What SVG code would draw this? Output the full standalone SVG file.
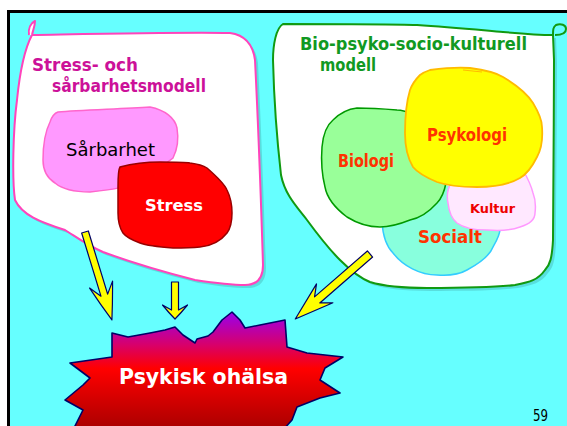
<svg xmlns="http://www.w3.org/2000/svg" width="567" height="426" viewBox="0 0 567 426">
<defs>
<style>
.t{font-family:"DejaVu Sans","Liberation Sans",sans-serif;font-weight:bold;}
.n{font-family:"DejaVu Sans","Liberation Sans",sans-serif;font-weight:normal;}
.arrow{fill:#FFFF00;stroke:#000066;stroke-width:1.2;stroke-linejoin:round;}
.shadow{fill:#000000;opacity:0.13;}
</style>
<linearGradient id="burst" x1="0" y1="0" x2="0" y2="1">
<stop offset="0" stop-color="#9900EE"/>
<stop offset="0.28" stop-color="#D8006A"/>
<stop offset="0.48" stop-color="#FF0000"/>
<stop offset="1" stop-color="#A80000"/>
</linearGradient>
<path id="pinkbox" d="M 32,35 C 90,34 180,32 230,33 C 245,35 253,45 255,60 C 258,120 261,200 263,265 C 263,278 257,285 245,285 C 230,285 215,283 195,280 C 160,271 130,262 103,252 C 85,244 75,236 65,230 C 40,222 22,215 15,200 C 12,180 13,130 17,100 C 20,70 24,50 32,35 Z"/>
<path id="greenbox" d="M 283,24 C 330,24 390,24 417,25 C 450,27 480,30 503,32 C 525,34 540,35 553,35 L 554,60 C 554,120 553,200 553,240 C 552,258 550,265 545,270 C 538,280 530,282 515,285 C 490,288 460,288 427,288 C 400,288 380,285 370,282 C 360,278 350,270 340,260 C 330,250 318,235 307,220 C 297,207 285,195 281,175 C 277,140 274,100 273,60 C 273,45 276,28 283,24 Z"/>
</defs>

<rect x="0" y="0" width="567" height="426" fill="#FFFFFF"/>
<rect x="8.5" y="11.5" width="600" height="500" fill="#66FFFF" stroke="#000000" stroke-width="3"/>

<g id="stress-sarbarhetsmodell">
<use href="#pinkbox" class="shadow" transform="translate(3,3)"/>
<use href="#pinkbox" fill="#FFFFFF" stroke="#FF44BB" stroke-width="2"/>
<path d="M 29,35 C 28,28 31,23 35,21 C 35,26 33,30 32,35" fill="#FFFFFF" stroke="#FF44BB" stroke-width="2" stroke-linejoin="round"/>
<text class="t" x="32" y="71" font-size="17" fill="#CC1199" textLength="106" lengthAdjust="spacingAndGlyphs">Stress- och</text>
<text class="t" x="52" y="92" font-size="17" fill="#CC1199" textLength="154" lengthAdjust="spacingAndGlyphs">sårbarhetsmodell</text>
</g>

<g id="sarbarhet">
<path d="M 58,112 C 80,110 120,109 150,107 C 165,110 175,118 177,128 C 179,140 177,150 173,158 L 150,175 C 130,188 110,190 90,192 C 75,192 62,189 55,183 C 47,178 43,170 43,160 C 43,145 46,130 50,122 C 52,116 55,113 58,112 Z" fill="#FF99FF" stroke="#FF66CC" stroke-width="1.5"/>
<text class="n" x="66" y="156" font-size="17" fill="#000000" textLength="89" lengthAdjust="spacingAndGlyphs">Sårbarhet</text>
</g>

<g id="stress">
<path d="M 120,167 C 135,163 150,162 160,162 C 175,162 185,162 190,163 C 198,164 204,166 207,168 C 215,175 224,183 227,190 C 231,198 232,207 232,213 C 232,222 230,229 227,233 C 220,242 210,246 200,247 C 190,248 180,248 173,248 C 160,247 148,246 140,243 C 132,240 126,237 123,233 C 119,227 118,220 118,213 C 118,200 118,192 118,187 C 118,178 118,170 120,167 Z" fill="#FF0000" stroke="#990000" stroke-width="1.5"/>
<text class="t" x="145" y="211" font-size="16" fill="#FFFFFF" textLength="58" lengthAdjust="spacingAndGlyphs">Stress</text>
</g>

<g id="bio-psyko-socio-kulturell-modell">
<use href="#greenbox" class="shadow" transform="translate(3,3)"/>
<use href="#greenbox" fill="#FFFFFF" stroke="#119911" stroke-width="2"/>
<path d="M 553,35 C 553,30 553,27 556,25 C 561,23 566,25 566,29 C 566,33 562,35 555,35" fill="#66FFFF" stroke="#119911" stroke-width="2"/>
<text class="t" x="300" y="50" font-size="17" fill="#119922" textLength="227" lengthAdjust="spacingAndGlyphs">Bio-psyko-socio-kulturell</text>
<text class="t" x="320" y="71" font-size="17" fill="#119922" textLength="56" lengthAdjust="spacingAndGlyphs">modell</text>
</g>

<g id="socialt">
<path d="M 382,222 C 383,238 387,247 393,253 C 403,266 420,275 437,275 C 450,276 460,274 467,270 C 480,263 490,255 493,247 C 497,240 500,235 500,229 L 505,200 L 445,185 L 385,205 Z" fill="#88FFDD" stroke="none"/>
<path d="M 382,222 C 383,238 387,247 393,253 C 403,266 420,275 437,275 C 450,276 460,274 467,270 C 480,263 490,255 493,247 C 497,240 500,235 500,229" fill="none" stroke="#33CCFF" stroke-width="1.5"/>
</g>

<g id="biologi">
<path d="M 357,108 C 370,108 385,109 397,110 C 402,110 408,112 415,115 L 440,150 C 446,165 447,175 446,183 C 444,193 440,200 437,203 C 428,213 420,218 410,220 C 400,224 390,227 380,227 C 365,227 355,222 347,217 C 335,208 327,198 325,187 C 322,175 321,160 322,147 C 323,135 327,125 333,120 C 340,113 348,109 357,108 Z" fill="#99FF99" stroke="#009900" stroke-width="1.5"/>
</g>

<g id="kultur">
<path d="M 452,182 C 446,190 447,198 448,203 C 449,212 452,219 457,223 C 465,229 475,230 487,230 C 500,231 512,230 520,227 C 530,224 535,220 535,213 C 536,205 535,198 533,193 C 531,185 527,177 523,170 C 510,160 470,165 452,182 Z" fill="#FFE8FF" stroke="#FF99FF" stroke-width="1.5"/>
</g>

<g id="psykologi">
<path d="M 430,70 C 445,68 460,67 470,68 C 485,70 495,72 503,77 C 518,86 528,95 533,103 C 539,113 542,120 542,127 C 543,140 541,150 537,157 C 532,167 527,174 520,178 C 508,185 492,187 477,187 C 462,187 448,186 437,182 C 425,177 417,172 413,167 C 407,157 405,145 405,133 C 405,115 407,100 410,90 C 413,82 417,78 420,75 C 424,72 427,71 430,70 Z" fill="#FFFF00" stroke="#FFBB00" stroke-width="1.8"/>
<path d="M 463,70 L 482,72" fill="none" stroke="#FFBB00" stroke-width="1"/>
</g>

<g id="labels-bio">
<text class="t" x="338" y="167" font-size="17" fill="#FF3300" textLength="56" lengthAdjust="spacingAndGlyphs">Biologi</text>
<text class="t" x="427" y="141" font-size="17" fill="#FF3300" textLength="80" lengthAdjust="spacingAndGlyphs">Psykologi</text>
<text class="t" x="470" y="213" font-size="13" fill="#EE0000" textLength="45" lengthAdjust="spacingAndGlyphs">Kultur</text>
<text class="t" x="418" y="243" font-size="17" fill="#FF3300" textLength="64" lengthAdjust="spacingAndGlyphs">Socialt</text>
</g>

<g id="connectors">
<path class="arrow" transform="translate(85,232) rotate(-17)" d="M -3.5,0 L 3.5,0 L 3.5,66 L 12,55 Q 6,75 0,92 Q -6,75 -12,55 L -3.5,66 Z"/>
<path class="arrow" transform="translate(175,282)" d="M -3.5,0 L 3.5,0 L 3.5,28 L 12.5,23 Q 6,31 0,37 Q -6,31 -12.5,23 L -3.5,28 Z"/>
<path class="arrow" transform="translate(370,254) rotate(49)" d="M -4,0 L 4,0 L 4,70 L 12.5,60 Q 6,80 0,99 Q -6,80 -12.5,60 L -4,70 Z"/>
</g>

<g id="psykisk-ohalsa">
<path d="M 112,333 L 128,337 L 150,333 L 165,330 L 175,327 L 183,335 L 195,343 L 197,339 L 208,336 L 213,332 L 222,320 L 232,312 L 240,320 L 245,328 L 260,325 L 285,320 L 287,347 L 307,353 L 343,357 L 325,368 L 320,380 L 340,393 L 320,398 L 297,407 L 292,420 L 283,430 L 73,430 L 83,410 L 65,400 L 83,385 L 90,378 L 70,363 L 112,357 Z" fill="url(#burst)" stroke="#000066" stroke-width="1.6" stroke-linejoin="round"/>
<text class="t" x="119" y="384" font-size="22" fill="#FFFFFF" textLength="169" lengthAdjust="spacingAndGlyphs">Psykisk ohälsa</text>
</g>

<text class="n" x="533" y="421" font-size="15" fill="#000000" textLength="15" lengthAdjust="spacingAndGlyphs">59</text>
</svg>
